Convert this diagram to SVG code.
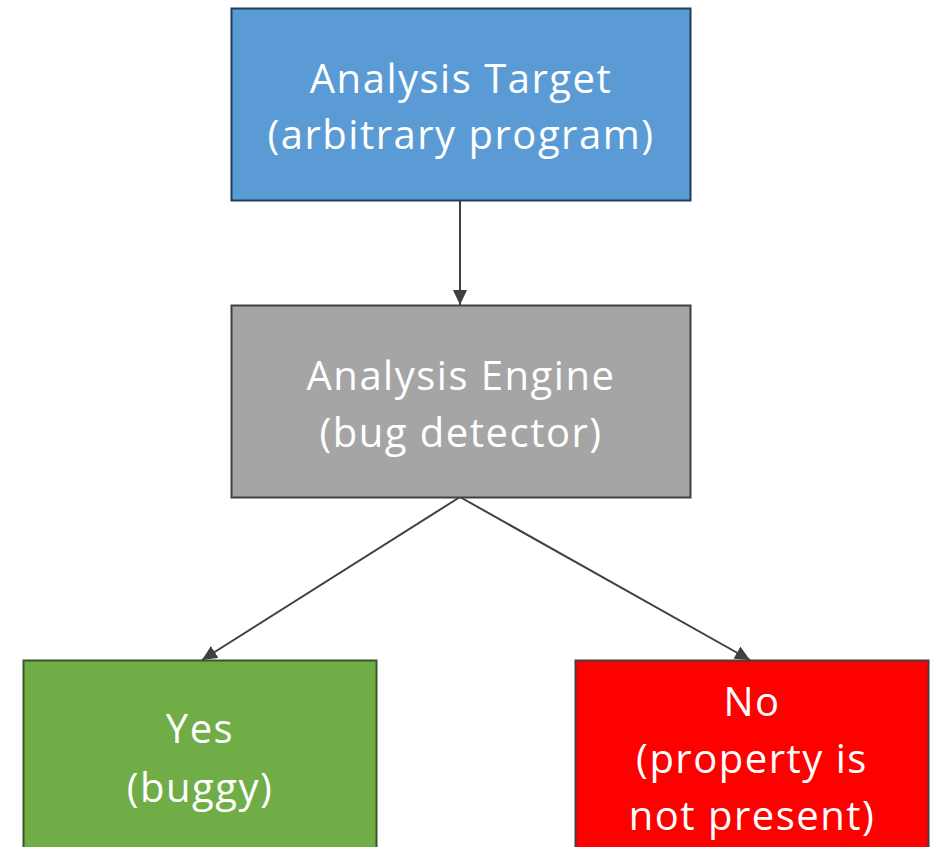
<svg xmlns="http://www.w3.org/2000/svg" width="931" height="847" viewBox="0 0 931 847">
<defs>
<style>
.t{font-family:"Open Sans","Liberation Sans",sans-serif;font-size:40px;letter-spacing:1.5px;fill:#ffffff;text-anchor:middle}
.c{stroke:#404040;stroke-width:2;fill:none}
</style>
<marker id="ah" viewBox="0 0 15 14" refX="15" refY="7" markerWidth="15" markerHeight="14" markerUnits="userSpaceOnUse" orient="auto">
<path d="M0,0 L15,7 L0,14 z" fill="#404040"/>
</marker>
</defs>
<rect width="931" height="847" fill="#ffffff"/>
<g id="connectors">
<line class="c" x1="460" y1="200" x2="460" y2="305" marker-end="url(#ah)"/>
<line class="c" x1="460" y1="497" x2="202" y2="660" marker-end="url(#ah)"/>
<line class="c" x1="460" y1="497" x2="750" y2="660" marker-end="url(#ah)"/>
</g>
<g id="target">
<rect x="231.5" y="8.5" width="459" height="192" fill="#5b9bd5" stroke="#203d5c" stroke-width="2"/>
<text class="t" x="461" y="93">Analysis Target</text>
<text class="t" x="461" y="149">(arbitrary program)</text>
</g>
<g id="engine">
<rect x="231.5" y="305.5" width="459" height="192" fill="#a5a5a5" stroke="#404040" stroke-width="2"/>
<text class="t" x="461" y="390">Analysis Engine</text>
<text class="t" x="461" y="447">(bug detector)</text>
</g>
<g id="yes">
<rect x="23.5" y="660.5" width="353" height="200" fill="#70ad47" stroke="#375623" stroke-width="2"/>
<text class="t" x="200" y="743">Yes</text>
<text class="t" x="200" y="802">(buggy)</text>
</g>
<g id="no">
<rect x="575.5" y="660.5" width="353" height="200" fill="#ff0000" stroke="#404040" stroke-width="2"/>
<text class="t" x="752" y="716">No</text>
<text class="t" x="752" y="773">(property is</text>
<text class="t" x="752" y="830">not present)</text>
</g>
</svg>
